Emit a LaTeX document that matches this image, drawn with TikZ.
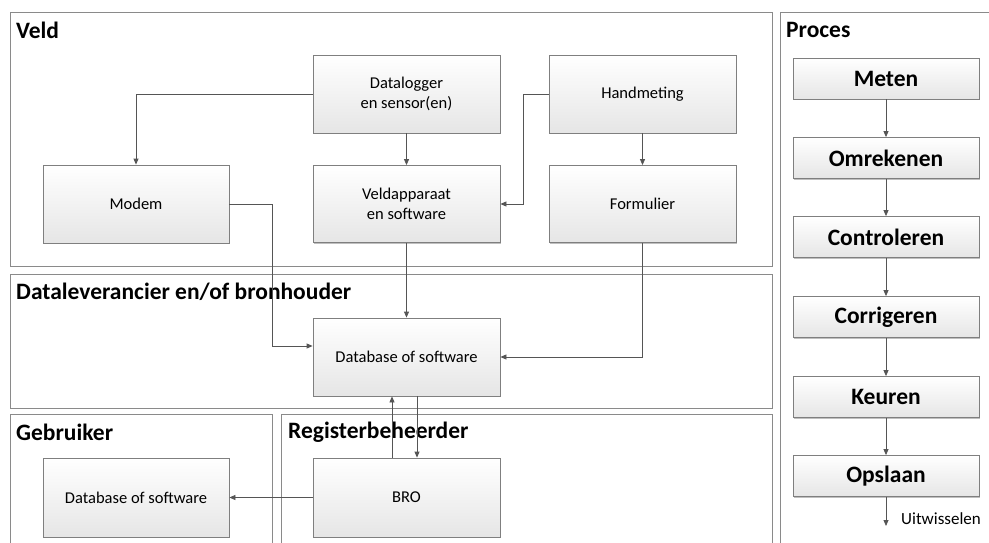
\documentclass[tikz,border=0pt]{standalone}
\usepackage{fontspec}
\setmainfont{Carlito}
\usetikzlibrary{arrows.meta,shadows,calc}
\definecolor{linec}{HTML}{555555}
\definecolor{boxc}{HTML}{7F7F7F}
\definecolor{contc}{HTML}{8A8A8A}
\begin{document}
\begin{tikzpicture}[x=1pt,y=-1pt,
  container/.style={draw=contc,line width=0.9pt},
  heading/.style={anchor=west,font=\fontsize{23.5}{27}\selectfont\bfseries,inner sep=0pt},
  box/.style={draw=boxc,line width=0.8pt,top color=white,bottom color=black!10,
    minimum width=187pt,minimum height=78pt,align=center,inner sep=2pt,
    font=\fontsize{16.5}{20}\selectfont,
    drop shadow={shadow xshift=1.2pt,shadow yshift=-1.2pt,opacity=0.25,fill=black}},
  pbox/.style={box,minimum width=186pt,minimum height=41pt,font=\fontsize{23.5}{27}\selectfont\bfseries},
  arr/.style={draw=linec,line width=0.8pt,-{Triangle[length=6pt,width=5pt]}}]
\clip (0,0) rectangle (989,543);
\fill[white] (0,0) rectangle (989,543);
% containers
\draw[container] (10,12) rectangle (772,266);
\draw[container] (10,274) rectangle (772,408);
\draw[container] (10,414) rectangle (272,560);
\draw[container] (281,414) rectangle (772,560);
\draw[container] (780,12) rectangle (1000,560);
\node[heading] (hveld) at (16,30) {Veld};
\node[heading] (hdata) at (16,292) {Dataleverancier en/of bronhouder};
\node[heading] (hgeb) at (16,432) {Gebruiker};
\node[heading] (hreg) at (288,432) {Registerbeheerder};
\node[heading] (hpro) at (786,30) {Proces};
% nodes
\node[box] (dl) at (406.5,94) {Datalogger\\en sensor(en)};
\node[box] (hm) at (642.5,94) {Handmeting};
\node[box,minimum height=77pt] (va) at (406.5,204) {Veldapparaat\\en software};
\node[box,minimum height=77pt] (fo) at (642.5,204) {Formulier};
\node[box,minimum width=186pt,minimum height=78pt] (mo) at (136,204) {Modem};
\node[box] (db) at (406.5,357) {Database of software};
\node[box,minimum width=186pt,minimum height=79pt] (gdb) at (136,497.5) {Database of software};
\node[box,minimum height=79pt] (bro) at (406.5,497.5) {BRO};
% process
\node[pbox] (p1) at (886,78.5) {Meten};
\node[pbox] (p2) at (886,158) {Omrekenen};
\node[pbox] (p3) at (886,237) {Controleren};
\node[pbox] (p4) at (886,317) {Corrigeren};
\node[pbox] (p5) at (886,397) {Keuren};
\node[pbox] (p6) at (886,476) {Opslaan};
\coordinate (ue) at (886,526);
\node[anchor=west,font=\fontsize{17}{20}\selectfont,inner sep=0pt] (uit) at (901,519) {Uitwisselen};
% connectors
\draw[arr] (dl.west) -| (mo.north);
\draw[arr] (dl) -- (va);
\draw[arr] (hm.west) -- ++(-25,0) |- (va.east);
\draw[arr] (hm) -- (fo);
\coordinate (mk) at (272,346);
\draw[arr] (mo.east) -| (mk) -- (db.west |- mk);
\draw[arr] (va) -- (db);
\draw[arr] (fo.south) |- (db.east);
\draw[arr] ([xshift=-14.5pt]bro.north) -- ([xshift=-14.5pt]db.south);
\draw[arr] ([xshift=10.5pt]db.south) -- ([xshift=10.5pt]bro.north);
\draw[arr] (bro.west) -- (gdb.east);
\draw[arr] (p1) -- (p2);
\draw[arr] (p2) -- (p3);
\draw[arr] (p3) -- (p4);
\draw[arr] (p4) -- (p5);
\draw[arr] (p5) -- (p6);
\draw[arr] (p6.south) -- (ue);
\end{tikzpicture}
\end{document}
